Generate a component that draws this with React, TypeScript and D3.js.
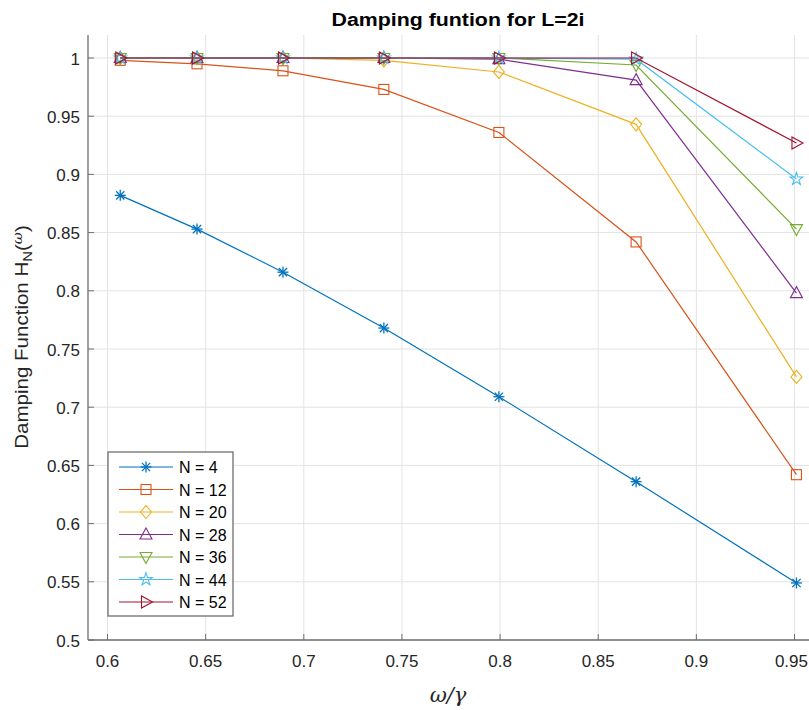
import React from "react";
import * as d3 from "d3";

const xValues = [0.6065, 0.6456, 0.6894, 0.7408, 0.7994, 0.8693, 0.9510];
const seriesNames = ["N = 4", "N = 12", "N = 20", "N = 28", "N = 36", "N = 44", "N = 52"];
const seriesN4 = [0.882, 0.853, 0.816, 0.768, 0.709, 0.636, 0.549];
const seriesN12 = [0.998, 0.995, 0.989, 0.973, 0.936, 0.842, 0.642];
const seriesN20 = [1.0, 1.0, 1.0, 0.998, 0.988, 0.943, 0.726];
const seriesN28 = [1.0, 1.0, 1.0, 1.0, 0.999, 0.981, 0.798];
const seriesN36 = [1.0, 1.0, 1.0, 1.0, 1.0, 0.994, 0.853];
const seriesN44 = [1.0, 1.0, 1.0, 1.0, 1.0, 0.999, 0.896];
const seriesN52 = [1.0, 1.0, 1.0, 1.0, 1.0, 1.0, 0.927];
const xTicks = [0.6, 0.65, 0.7, 0.75, 0.8, 0.85, 0.9, 0.95];
const yTicks = [0.5, 0.55, 0.6, 0.65, 0.7, 0.75, 0.8, 0.85, 0.9, 0.95, 1];
const colors = ["#0072BD", "#D95319", "#EDB120", "#7E2F8E", "#77AC30", "#4DBEEE", "#A2142F"];
const markers = ["asterisk", "square", "diamond", "triUp", "triDown", "star", "triRight"];

const allSeries = [seriesN4, seriesN12, seriesN20, seriesN28, seriesN36, seriesN44, seriesN52];

function Marker({ type, x, y, color }: { type: string; x: number; y: number; color: string }) {
  const r = 5.5;
  const common = { fill: "none", stroke: color, strokeWidth: 1.1 };
  switch (type) {
    case "asterisk": {
      const a = r;
      const b = r * 0.75;
      return (
        <g stroke={color} strokeWidth={1.3}>
          <line x1={x} y1={y - a} x2={x} y2={y + a} />
          <line x1={x - a} y1={y} x2={x + a} y2={y} />
          <line x1={x - b} y1={y - b} x2={x + b} y2={y + b} />
          <line x1={x - b} y1={y + b} x2={x + b} y2={y - b} />
        </g>
      );
    }
    case "square":
      return <rect x={x - 5} y={y - 5} width={10} height={10} {...common} />;
    case "diamond":
      return <path d={`M${x},${y - 6.5}L${x + 5.5},${y}L${x},${y + 6.5}L${x - 5.5},${y}Z`} {...common} />;
    case "triUp":
      return <path d={`M${x},${y - 6.5}L${x + 6},${y + 4.5}L${x - 6},${y + 4.5}Z`} {...common} />;
    case "triDown":
      return <path d={`M${x},${y + 6.5}L${x + 6},${y - 4.5}L${x - 6},${y - 4.5}Z`} {...common} />;
    case "triRight":
      return <path d={`M${x + 6.5},${y}L${x - 4.5},${y + 6}L${x - 4.5},${y - 6}Z`} {...common} />;
    case "star": {
      const sym = d3.symbol().type(d3.symbolStar).size(50)();
      return <path d={sym || ""} transform={`translate(${x},${y})`} {...common} />;
    }
    default:
      return null;
  }
}

export default function App() {
  const width = 809;
  const height = 710;
  const left = 88;
  const right = 815;
  const top = 35;
  const bottom = 640;

  const xs = d3.scaleLinear().domain([0.6, 0.95]).range([107.5, 794.5]);
  const ys = d3.scaleLinear().domain([0.5, 1]).range([640, 58]);

  const line = d3
    .line<[number, number]>()
    .x((d) => xs(d[0]))
    .y((d) => ys(d[1]));

  const font = "'Liberation Sans', Arial, Helvetica, sans-serif";
  const textColor = "#262626";

  return (
    <svg
      width={width}
      height={height}
      style={{ position: "absolute", left: 0, top: 0, background: "#fff" }}
      fontFamily={font}
    >
      <rect x={0} y={0} width={width} height={height} fill="#fff" />
      {/* grid */}
      {xTicks.map((t) => (
        <line key={"gx" + t} x1={xs(t)} x2={xs(t)} y1={top} y2={bottom} stroke="#e3e3e3" strokeWidth={1} />
      ))}
      {yTicks.map((t) => (
        <line key={"gy" + t} x1={left} x2={right} y1={ys(t)} y2={ys(t)} stroke="#e3e3e3" strokeWidth={1} />
      ))}
      {/* axes */}
      <line x1={left} x2={left} y1={top} y2={bottom} stroke="#6e6e6e" strokeWidth={1.3} />
      <line x1={left} x2={right} y1={bottom} y2={bottom} stroke="#6e6e6e" strokeWidth={1.3} />
      {xTicks.map((t) => {
        const last = xs(t) + 17 > width;
        return (
          <g key={"tx" + t}>
            <line x1={xs(t)} x2={xs(t)} y1={bottom} y2={bottom - 6} stroke="#6e6e6e" />
            <text
              x={last ? width - 1 : xs(t)}
              y={667}
              textAnchor={last ? "end" : "middle"}
              fontSize={17}
              fill={textColor}
            >
              {String(t)}
            </text>
          </g>
        );
      })}
      {yTicks.map((t) => (
        <g key={"ty" + t}>
          <line x1={left} x2={left + 6} y1={ys(t)} y2={ys(t)} stroke="#6e6e6e" />
          <text x={80} y={ys(t) + 6.5} textAnchor="end" fontSize={17} fill={textColor}>
            {String(t)}
          </text>
        </g>
      ))}
      {/* series */}
      {allSeries.map((s, i) => {
        const pts: [number, number][] = s.map((v, j) => [xValues[j], v]);
        return (
          <g key={"s" + i}>
            <path d={line(pts) || ""} fill="none" stroke={colors[i]} strokeWidth={1.2} />
            {pts.map((p, j) => (
              <Marker key={j} type={markers[i]} x={xs(p[0])} y={ys(p[1])} color={colors[i]} />
            ))}
          </g>
        );
      })}
      {/* title */}
      <text
        x={458}
        y={26}
        textAnchor="middle"
        fontSize={18}
        fontWeight="bold"
        fill="#000"
        textLength={253}
        lengthAdjust="spacingAndGlyphs"
      >
        Damping funtion for L=2i
      </text>
      {/* y label */}
      <text
        transform={`translate(28,337) rotate(-90) scale(1.14,1)`}
        textAnchor="middle"
        fontSize={18}
        fill={textColor}
      >
        Damping Function H
        <tspan fontSize={13} dy={4}>N</tspan>
        <tspan dy={-4}>(</tspan>
        <tspan fontSize={13} dy={-6} fontFamily="'DejaVu Serif', serif" fontStyle="italic">ω</tspan>
        <tspan dy={6}>)</tspan>
      </text>
      {/* x label */}
      <text
        x={448}
        y={702}
        textAnchor="middle"
        fontSize={21}
        fontStyle="italic"
        fontFamily="'DejaVu Serif', 'Liberation Serif', serif"
        fill={textColor}
      >
        ω/γ
      </text>
      {/* legend */}
      <rect x={108} y={452} width={125} height={164} fill="#fff" stroke="#6e6e6e" strokeWidth={1.3} />
      {seriesNames.map((name, i) => {
        const ly = 467 + i * 22.5;
        return (
          <g key={"l" + i}>
            <line x1={119} x2={173} y1={ly} y2={ly} stroke={colors[i]} strokeWidth={1.2} />
            <Marker type={markers[i]} x={146} y={ly} color={colors[i]} />
            <text x={179} y={ly + 6} fontSize={16} fill="#000">
              {name}
            </text>
          </g>
        );
      })}
    </svg>
  );
}
